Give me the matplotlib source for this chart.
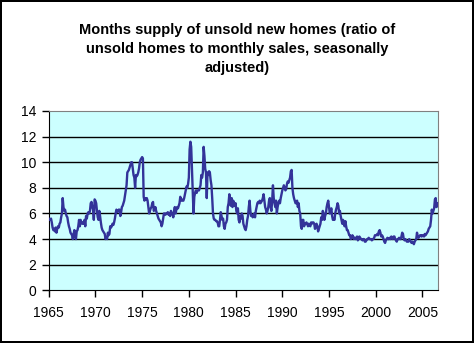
import numpy as np
import matplotlib
matplotlib.use('Agg')
import matplotlib.pyplot as plt

# monthly months-supply values, Jan 1965 .. Sep 2006
supply_1960s = [
    5.6, 5.5, 5.5, 5.6, 5.3, 4.9, 4.7, 4.8, 4.6, 4.9, 4.5, 4.8,   # 1965
    5.0, 4.9, 5.2, 5.3, 5.7, 6.0, 7.2, 6.5, 6.2, 6.3, 6.0, 5.8,   # 1966
    5.7, 5.3, 5.0, 4.8, 4.5, 4.4, 4.3, 4.0, 4.4, 4.7, 4.2, 4.0,   # 1967
    4.6, 4.7, 5.0, 5.5, 5.0, 5.5, 5.3, 5.2, 5.3, 5.2, 5.5, 5.0,   # 1968
    5.8, 5.6, 6.0, 6.1, 6.0, 6.2, 6.8, 6.9, 6.5, 6.3, 5.5, 7.1,   # 1969
]
supply_1970s = [
    7.0, 6.8, 6.2, 5.7, 5.5, 6.2, 5.8, 5.3, 4.9, 4.7, 4.6, 4.5,
    4.4, 4.0, 4.1, 4.0, 4.5, 4.3, 4.4, 5.0, 4.9, 5.0, 5.2, 5.1,
    5.3, 5.6, 6.0, 6.3, 6.1, 6.2, 6.3, 6.3, 5.8, 6.1, 6.5, 6.6,
    6.8, 7.0, 7.4, 7.8, 8.2, 9.2, 9.3, 9.4, 9.6, 9.8, 10.0, 10.0,
    9.5, 9.0, 8.8, 8.0, 9.0, 8.9, 9.0, 9.2, 9.5, 10.0, 10.2, 10.3,
    10.4, 10.3, 7.3, 7.0, 7.2, 7.1, 7.2, 7.0, 6.5, 6.0, 6.2, 6.4,
    6.5, 6.8, 6.9, 6.2, 6.3, 6.5, 6.2, 6.0, 5.8, 5.6, 5.5, 5.4,
    5.3, 5.0, 5.2, 5.6, 6.0, 6.0, 5.9, 6.0, 6.0, 6.1, 5.9, 6.0,
    5.8, 6.2, 6.0, 6.0, 5.7, 6.2, 6.5, 6.0, 6.3, 6.5, 6.4, 6.6,
    6.8, 7.3, 7.0, 7.1, 7.0, 7.0, 7.2, 7.5, 7.8, 8.1, 8.0, 8.3,
]
supply_1980s = [
    8.8, 11.0, 11.6, 11.2, 9.5, 7.8, 6.0, 7.3, 7.6, 7.8, 7.6, 7.8,
    7.8, 7.8, 8.0, 8.2, 9.0, 8.8, 9.2, 11.2, 10.5, 9.5, 9.2, 7.2,
    9.2, 9.0, 9.3, 9.2, 8.6, 8.2, 7.2, 6.0, 5.6, 5.5, 5.5, 5.4,
    5.4, 5.3, 5.0, 5.0, 5.5, 6.1, 5.8, 5.5, 5.6, 5.0, 4.8, 5.2,
    5.3, 5.5, 6.5, 6.8, 7.5, 6.8, 6.6, 7.2, 6.5, 7.0, 6.8, 6.6,
    6.8, 6.2, 6.0, 6.4, 5.5, 5.3, 5.8, 5.6, 6.0, 5.8, 5.2, 5.0,
    4.8, 4.7, 5.0, 5.5, 5.8, 6.5, 7.0, 6.2, 5.8, 5.9, 5.7, 5.8,
    6.0, 5.7, 6.2, 6.5, 6.8, 6.9, 6.8, 7.0, 6.8, 6.9, 7.0, 7.2,
    7.5, 7.0, 6.5, 6.3, 6.0, 6.2, 6.5, 7.0, 7.2, 6.5, 6.2, 7.0,
    8.2, 7.2, 6.8, 6.5, 7.0, 6.0, 6.5, 6.8, 7.0, 6.8, 7.2, 7.5,
]
supply_1990s = [
    7.8, 8.0, 8.2, 8.0, 7.8, 7.9, 8.3, 8.5, 8.4, 8.6, 8.8, 9.3,
    9.4, 8.0, 7.5, 7.2, 7.0, 6.8, 6.8, 7.0, 6.5, 6.8, 6.2, 6.0,
    5.0, 4.8, 5.5, 5.5, 5.0, 5.2, 5.2, 5.3, 5.2, 5.0, 5.2, 5.1,
    5.0, 5.3, 5.2, 5.3, 5.3, 5.2, 4.8, 5.0, 5.2, 5.0, 4.6, 4.8,
    5.0, 5.2, 5.7, 5.5, 6.2, 6.0, 5.5, 5.8, 6.0, 6.5, 6.8, 7.0,
    6.5, 6.0, 6.2, 6.4, 5.8, 5.5, 5.6, 5.5, 6.0, 6.3, 6.5, 6.8,
    6.6, 6.0, 6.2, 5.8, 5.5, 5.2, 5.5, 5.2, 5.0, 5.4, 5.0, 4.7,
    4.7, 4.5, 4.3, 4.3, 4.0, 4.1, 4.3, 4.2, 4.0, 4.1, 4.0, 4.1,
    4.2, 3.9, 4.0, 4.2, 4.1, 4.0, 4.0, 3.9, 4.0, 4.0, 3.8, 3.8,
    3.9, 4.0, 4.0, 4.1, 4.0, 4.0, 4.0, 3.9, 4.0, 4.0, 4.1, 4.3,
]
supply_2000s = [
    4.3, 4.3, 4.4, 4.3, 4.6, 4.7, 4.5, 4.2, 4.3, 4.2, 4.0, 3.8,
    3.7, 3.9, 4.0, 4.1, 4.0, 4.0, 4.1, 4.0, 4.2, 4.1, 4.0, 4.2,
    4.2, 4.0, 3.9, 3.8, 4.0, 4.0, 4.1, 4.0, 4.0, 4.2, 4.5, 4.4,
    4.0, 3.9, 4.0, 3.9, 3.8, 3.8, 3.8, 4.0, 3.9, 3.8, 3.7, 3.8,
    3.7, 3.6, 3.8, 3.9, 4.0, 4.5, 4.2, 4.1, 4.2, 4.3, 4.3, 4.2,
    4.3, 4.3, 4.2, 4.4, 4.3, 4.4, 4.5, 4.6, 4.8, 4.9, 5.0, 5.5,
    6.3, 6.0, 6.2, 6.4, 7.1, 7.2, 6.5, 6.8, 6.6,
]
start_year = 1965
year_ticks = [1965, 1970, 1975, 1980, 1985, 1990, 1995, 2000, 2005]
value_ticks = [0, 2, 4, 6, 8, 10, 12, 14]
title = ('Months supply of unsold new homes (ratio of\n'
         'unsold homes to monthly sales, seasonally\nadjusted)')

supply = np.array(supply_1960s + supply_1970s + supply_1980s + supply_1990s + supply_2000s)
dates = start_year + np.arange(len(supply)) / 12.0

plt.rcParams['font.family'] = ['Liberation Sans', 'DejaVu Sans']

fig = plt.figure(figsize=(4.74, 3.43), dpi=100)
fig.patch.set_edgecolor('black')
fig.patch.set_linewidth(1.5)
ax = fig.add_axes([0.1027, 0.1536, 0.822, 0.5228])
ax.set_facecolor('#CCFFFF')

for v in value_ticks[1:-1]:
    ax.axhline(v, color='black', lw=1.0, zorder=1)
ax.plot(dates, supply, color='#333399', lw=1.7, zorder=3)

ax.set_xlim(1965, dates[-1] + 0.03)
ax.set_ylim(0, 14)
ax.set_xticks(year_ticks)
ax.set_yticks(value_ticks)
ax.tick_params(direction='out', length=5, width=1, labelsize=10, color='black', pad=4)
ax.tick_params(axis='x', pad=6)

for side in ['top', 'right']:
    ax.spines[side].set_color('#808080')
for side in ['left', 'bottom']:
    ax.spines[side].set_color('black')

fig.text(0.5, 0.858, title, ha='center', va='center', fontsize=10.5,
         fontweight='bold', linespacing=1.45)

fig.savefig('out.png', dpi=100, edgecolor=fig.get_edgecolor())
